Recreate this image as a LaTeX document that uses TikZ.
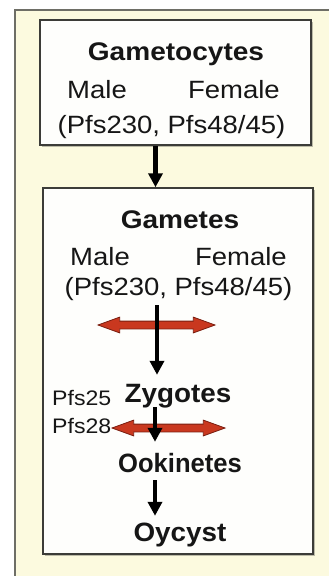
\documentclass[tikz,border=0pt]{standalone}
\usepackage{fontspec}
\setmainfont{Liberation Sans}[FakeStretch=1.1]
\newfontfamily\lowbold{Liberation Sans}[FakeStretch=1.05]
\usetikzlibrary{arrows.meta,shapes.arrows,shadows}
\definecolor{panelbg}{HTML}{FCFADF}
\definecolor{panelline}{HTML}{6E6E66}
\definecolor{boxline}{HTML}{3C3C38}
\definecolor{boxfill}{HTML}{FEFEFC}
\definecolor{redfill}{HTML}{C9381F}
\definecolor{redline}{HTML}{7A1E10}
\definecolor{inktext}{HTML}{161616}
\begin{document}
\begin{tikzpicture}[x=1pt,y=-1pt,
  stagebox/.style={draw=boxline, line width=1.5pt, fill=boxfill,
    drop shadow={shadow xshift=1.5pt, shadow yshift=-1.5pt, fill=black, opacity=0.25},
    inner sep=0pt},
  boldtxt/.style={font=\fontsize{25.5}{30}\selectfont\bfseries, text=inktext, inner sep=0pt, text height=19pt, text depth=5pt},
  lowtxt/.style={font=\fontsize{26.5}{30}\lowbold\bfseries, text=inktext, inner sep=0pt, text height=19pt, text depth=5pt},
  regtxt/.style={font=\fontsize{25}{30}\selectfont, text=inktext, inner sep=0pt, text height=19pt, text depth=5pt},
  smalltxt/.style={font=\fontsize{21}{25}\selectfont, text=inktext, inner sep=0pt},
  flow/.style={draw=black, line width=4.5pt, -{Triangle[width=14pt,length=14pt]}},
  redarrow/.style={double arrow, draw=redline, line width=0.8pt, fill=redfill,
    inner xsep=0pt, inner ysep=3.5pt, double arrow head extend=4pt,
    double arrow tip angle=40}
]
\useasboundingbox (0,0) rectangle (329,576);
\clip (0,0) rectangle (329,576);
\fill[white] (0,0) rectangle (329,576);
% outer panel
\fill[panelbg] (15,10) rectangle (345,590);
\draw[panelline, line width=2pt] (15,590) -- (15,10) -- (345,10);

% boxes
\node[stagebox, minimum width=271pt, minimum height=125pt] (gbox) at (175.5,82.5) {};
\node[stagebox, minimum width=270pt, minimum height=366pt] (mbox) at (178,371) {};

% top box text
\node[boldtxt, anchor=base] (gct) at (176,60) {Gametocytes};
\node[regtxt, anchor=base west] (male1) at (67,98) {Male};
\node[regtxt, anchor=base east] (fem1) at (280,98) {Female};
\node[regtxt, anchor=base] (pfs1) at (171.5,133) {(Pfs230, Pfs48/45)};

% gametes box text
\node[boldtxt, anchor=base] (gam) at (180,228) {Gametes};
\node[regtxt, anchor=base west] (male2) at (70,265) {Male};
\node[regtxt, anchor=base east] (fem2) at (287,265) {Female};
\node[regtxt, anchor=base] (pfs2) at (178.5,295) {(Pfs230, Pfs48/45)};

\node[lowtxt, anchor=base] (zyg) at (178,402) {Zygotes};
\node[smalltxt, anchor=base west] (p25) at (52,405) {Pfs25};
\node[smalltxt, anchor=base west] (p28) at (52,433) {Pfs28};
\node[lowtxt, anchor=base] (ook) at (180,472) {\scalebox{0.92}[1]{Ookinetes}};
\node[lowtxt, anchor=base] (oyc) at (180,541) {Oycyst};

% red double arrows
\node[redarrow, minimum height=117pt] (ra1) at (156.5,325) {};
\node[redarrow, minimum height=113pt] (ra2) at (168.5,428) {};

% flow arrows
\coordinate (ax1) at (155.5,0);
\coordinate (ax2) at (157,0);
\coordinate (ax3) at (155,0);
\draw[flow] (gbox.south -| ax1) -- (mbox.north -| ax1);
\draw[flow, shorten <=5pt, shorten >=8pt] (pfs2.south -| ax2) -- (zyg.north -| ax2);
\draw[flow, shorten >=11pt] (zyg.south -| ax3) -- (ook.north -| ax3);
\draw[flow, shorten <=3pt, shorten >=6pt] (ook.south -| ax3) -- (oyc.north -| ax3);
\end{tikzpicture}
\end{document}
